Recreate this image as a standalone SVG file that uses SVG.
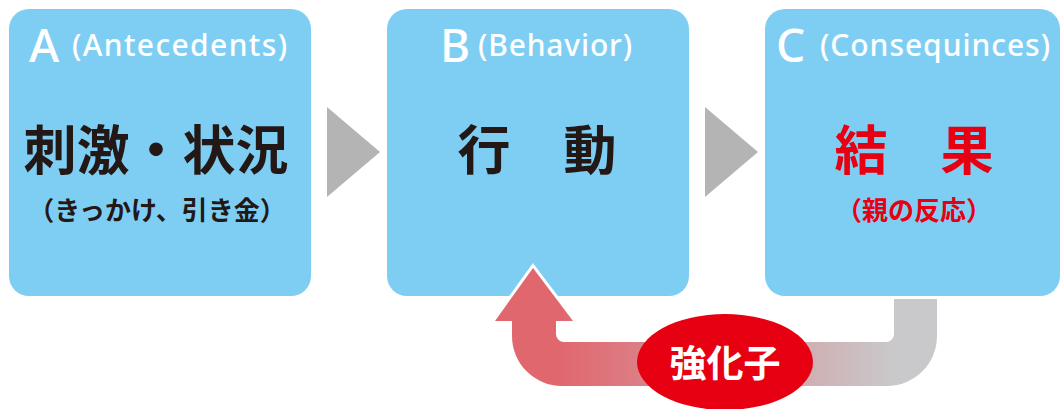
<svg xmlns="http://www.w3.org/2000/svg" width="1063" height="409" viewBox="0 0 1063 409">
<style>
.box{fill:#7ecef4}
.tri{fill:#b4b4b5}
.big{font-family:"Noto Sans","Liberation Sans",sans-serif;font-weight:500;fill:#fff}
.en{font-family:"Noto Sans","Liberation Sans",sans-serif;font-weight:500;fill:#fff;font-size:30px}
.jp{font-family:"Noto Sans CJK JP",sans-serif;font-weight:700;text-anchor:middle}
.main{font-size:53px}
.sub{font-size:26px}
.blk{fill:#231815}
.red{fill:#e60012}
</style>
<defs>
<linearGradient id="g" gradientUnits="userSpaceOnUse" x1="560" y1="0" x2="895" y2="0">
<stop offset="0" stop-color="#e1676f"/>
<stop offset="1" stop-color="#c9c9cb"/>
</linearGradient>
</defs>
<g id="nodeA">
<rect class="box" x="9" y="9" width="302" height="287" rx="20"/>
<text class="big" x="29" y="62" font-size="46">A</text>
<text class="en" x="72" y="56" textLength="215">(Antecedents)</text>
<text class="jp main blk" x="156" y="170">刺激・状況</text>
<text class="jp sub blk" x="157" y="220">（きっかけ、引き金）</text>
</g>
<g id="nodeB">
<rect class="box" x="387" y="9" width="302" height="287" rx="20"/>
<text class="big" x="440" y="62" font-size="46">B</text>
<text class="en" x="478" y="56" textLength="154">(Behavior)</text>
<text class="jp main blk" x="537" y="170">行　動</text>
</g>
<g id="nodeC">
<rect class="box" x="765" y="9" width="295" height="287" rx="20"/>
<text class="big" x="776" y="62" font-size="46">C</text>
<text class="en" x="820" y="56" textLength="230">(Consequinces)</text>
<text class="jp main red" x="914" y="170">結　果</text>
<text class="jp sub red" x="914" y="220">（親の反応）</text>
</g>
<g id="connectors">
<polygon class="tri" points="327,107 380,152 327,197"/>
<polygon class="tri" points="705,107 758,152 705,197"/>
<path d="M937,299 L937,336 A50,50 0 0 1 887,386 L562,386 A50,50 0 0 1 512,336 L512,321 L495,321 L533,268 L573,321 L556,321 L556,334 A8,8 0 0 0 564,342 L886,342 A8,8 0 0 0 894,334 L894,299 Z" fill="url(#g)" stroke="#fff" stroke-width="6" stroke-linejoin="miter" paint-order="stroke"/>
</g>
<g id="nodeR">
<ellipse cx="725" cy="362" rx="88" ry="48" fill="#e60012"/>
<text class="jp" x="725" y="377" font-size="37" fill="#fff">強化子</text>
</g>
</svg>
